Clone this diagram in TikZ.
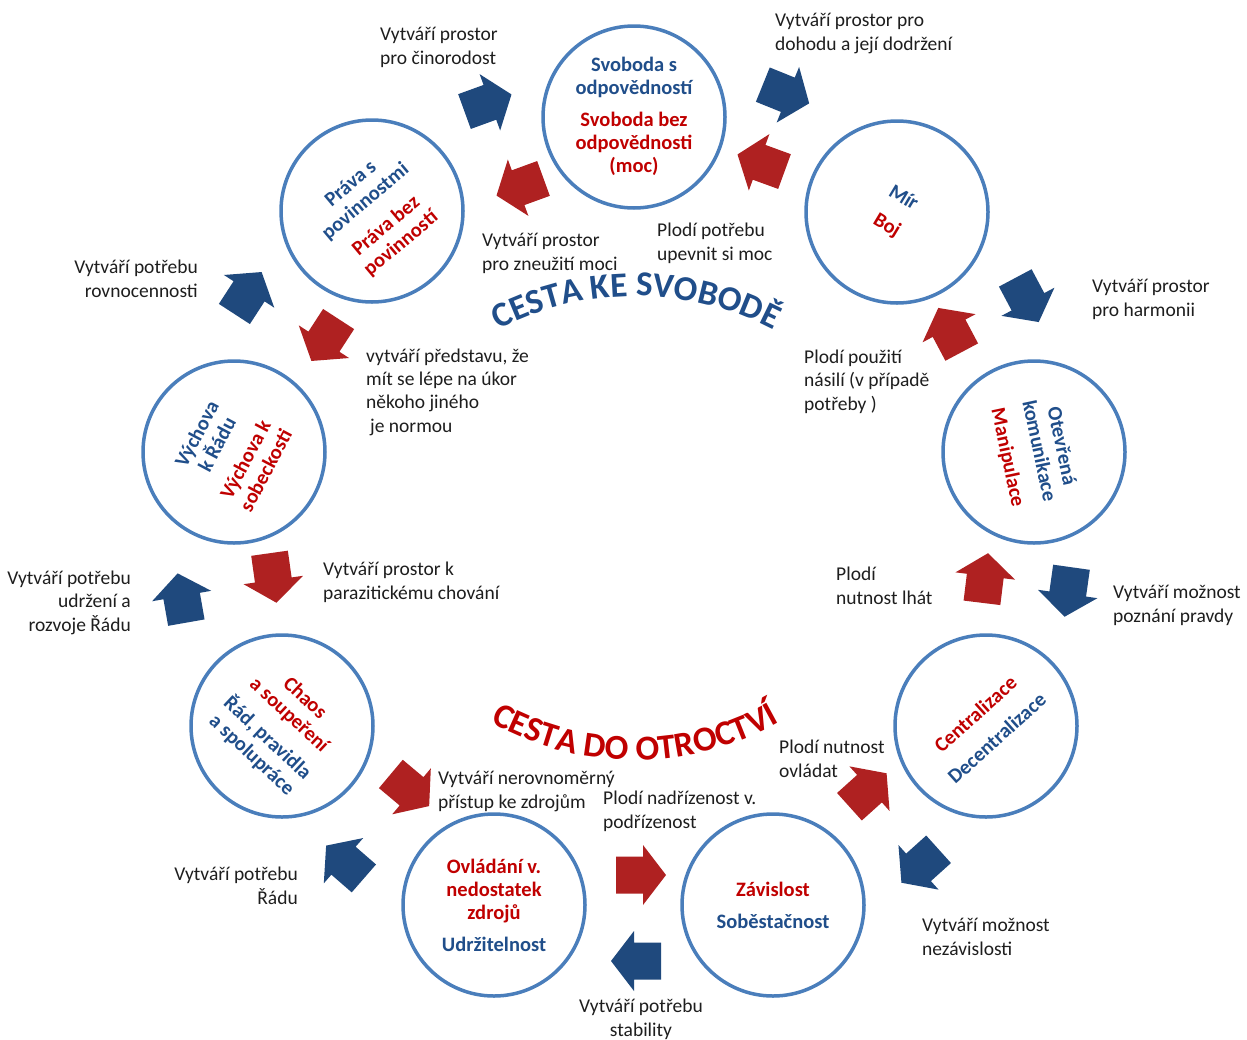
\documentclass[tikz,border=0pt]{standalone}
\usepackage{fontspec}
\setmainfont{Carlito}
\usetikzlibrary{decorations.text}
\definecolor{tblue}{RGB}{32,78,138}
\definecolor{tred}{RGB}{192,0,0}
\definecolor{ablue}{RGB}{31,73,125}
\definecolor{ared}{RGB}{175,33,33}
\definecolor{cblue}{RGB}{74,126,187}
\definecolor{lblack}{RGB}{30,30,30}
\tikzset{
  circ/.style={circle, draw=cblue, line width=3.5pt, minimum size=182pt, inner sep=0pt},
  ctext/.style={align=center, font=\bfseries\fontsize{20.5}{23}\selectfont, inner sep=0pt},
  lbl/.style={font=\fontsize{19.5}{23.3}\selectfont, text=lblack, inner sep=0pt},
  barrow/.pic={\path[pic actions] (-25,-18.5) -- (2,-18.5) -- (2,-30) -- (25,0) -- (2,30) -- (2,18.5) -- (-25,18.5) -- cycle;},
  bl/.style={fill=ablue},
  rd/.style={fill=ared}
}
\newcommand{\tb}{\color{tblue}}
\newcommand{\tr}{\color{tred}}
\begin{document}
\begin{tikzpicture}[x=1pt,y=-1pt]
\useasboundingbox[fill=white] (0,0) rectangle (1247,1039);

% circles
\node[circ] (c1) at (634,117) {};
\node[circ] (c2) at (897,212) {};
\node[circ] (c3) at (1034,452) {};
\node[circ] (c4) at (986,726) {};
\node[circ] (c5) at (773,905) {};
\node[circ] (c6) at (494,905) {};
\node[circ] (c7) at (282,726) {};
\node[circ] (c8) at (234,452) {};
\node[circ] (c9) at (372,211) {};

% circle texts
\node[ctext] (t1) at (634,116) {\tb Svoboda s\\\tb odpovědností\\[9pt]\tr Svoboda bez\\\tr odpovědnosti\\\tr (moc)};
\node[ctext, rotate=-31] (t2) at (895,212) {\tb Mír\\[9pt]\tr Boj};
\node[ctext, rotate=-78] (t3) at (1034,452) {\tb Otevřená\\\tb komunikace\\[9pt]\tr Manipulace};
\node[ctext, rotate=42] (t4) at (986,726) {\tr Centralizace\\[9pt]\tb Decentralizace};
\node[ctext] (t5) at (773,905) {\tr Závislost\\[9pt]\tb Soběstačnost};
\node[ctext] (t6) at (494,905) {\tr Ovládání v.\\\tr nedostatek\\\tr zdrojů\\[9pt]\tb Udržitelnost};
\node[ctext, rotate=-43] (t7) at (278,727) {\tr Chaos\\\tr a soupeření\\[9pt]\tb Řád, pravidla\\\tb a spolupráce};
\node[ctext, rotate=62] (t8) at (231,452) {\tb Výchova\\\tb k Řádu\\[9pt]\tr Výchova k\\\tr sobeckosti};
\node[ctext, rotate=40] (t9) at (376,214) {\tb Práva s\\\tb povinnostmi\\[9pt]\tr Práva bez\\\tr povinností};

% arrows
\pic[bl, rotate=20]  (b1) at (488,103) {barrow};
\pic[rd, rotate=200] (r1) at (520,187) {barrow};
\pic[bl, rotate=-22] (b2) at (786,94) {barrow};
\pic[rd, rotate=160] (r2) at (761,163) {barrow};
\pic[bl, rotate=-62] (b3) at (1027,300) {barrow};
\pic[rd, rotate=118] (r3) at (950,330) {barrow};
\pic[bl, rotate=-98] (b4) at (1068,592) {barrow};
\pic[rd, rotate=83]  (r4) at (985,578) {barrow};
\pic[bl, rotate=222] (b5) at (920,866) {barrow};
\pic[rd, rotate=42]  (r5) at (868,790) {barrow};
\pic[rd, rotate=0]   (r6) at (641,875) {barrow};
\pic[bl, rotate=180] (b6) at (636,961) {barrow};
\pic[bl, rotate=139] (b7) at (345,862) {barrow};
\pic[rd, rotate=-40] (r7) at (410,790) {barrow};
\pic[bl, rotate=100] (b8) at (182,598) {barrow};
\pic[rd, rotate=-82] (r8) at (273,578) {barrow};
\pic[bl, rotate=57]  (b9) at (248,293) {barrow};
\pic[rd, rotate=237] (r9) at (325,340) {barrow};

% labels (anchor = baseline of last line)
\node[lbl, anchor=base west, align=left] (l1) at (380,64) {Vytváří prostor\\pro činorodost};
\node[lbl, anchor=base west, align=left] (l2) at (775,50) {Vytváří prostor pro\\dohodu a její dodržení};
\node[lbl, anchor=base west, align=left] (l3) at (482,270) {Vytváří prostor\\pro zneužití moci};
\node[lbl, anchor=base west, align=left] (l4) at (657,260) {Plodí potřebu\\upevnit si moc};
\node[lbl, anchor=base east, align=right] (l5) at (198,297) {Vytváří potřebu\\rovnocennosti};
\node[lbl, anchor=base west, align=left] (l6) at (1092,316) {Vytváří prostor\\pro harmonii};
\node[lbl, anchor=base west, align=left] (l7) at (366,432) {vytváří představu, že\\mít se lépe na úkor\\někoho jiného\\\hspace*{4pt}je normou};
\node[lbl, anchor=base west, align=left] (l8) at (804,410) {Plodí použití\\násilí (v případě\\potřeby )};
\node[lbl, anchor=base west, align=left] (l9) at (323,599) {Vytváří prostor k\\parazitickému chování};
\node[lbl, anchor=base east, align=right] (l10) at (131,631) {Vytváří potřebu\\udržení a\\rozvoje Řádu};
\node[lbl, anchor=base west, align=left] (l11) at (836,604) {Plodí\\nutnost lhát};
\node[lbl, anchor=base west, align=left] (l12) at (1113,622) {Vytváří možnost\\poznání pravdy};
\node[lbl, anchor=base west, align=left] (l13) at (438,808) {Vytváří nerovnoměrný\\přístup ke zdrojům};
\node[lbl, anchor=base west, align=left] (l14) at (779,777) {Plodí nutnost\\ovládat};
\node[lbl, anchor=base west, align=left] (l15) at (603,828) {Plodí nadřízenost v.\\podřízenost};
\node[lbl, anchor=base east, align=right] (l16) at (298,904) {Vytváří potřebu\\Řádu};
\node[lbl, anchor=base west, align=left] (l17) at (922,955) {Vytváří možnost\\nezávislosti};
\node[lbl, anchor=base, align=center] (l18) at (641,1036) {Vytváří potřebu\\stability};

% curved titles
\path[decorate, decoration={text along path, text align=center, text color=tblue,
  text={|\bfseries\fontsize{35}{35}\selectfont|CESTA KE SVOBODĚ}}]
  (445.1,365.5) .. controls (555.4,272.9) and (716.6,272.9) .. (826.9,365.5);
\path[decorate, decoration={text along path, text align=center, text color=tred,
  text={|\bfseries\fontsize{35}{35}\selectfont|CESTA DO OTROCTVÍ}}]
  (444.1,690.5) .. controls (554.4,783.1) and (715.6,783.1) .. (825.9,690.5);
\end{tikzpicture}
\end{document}
